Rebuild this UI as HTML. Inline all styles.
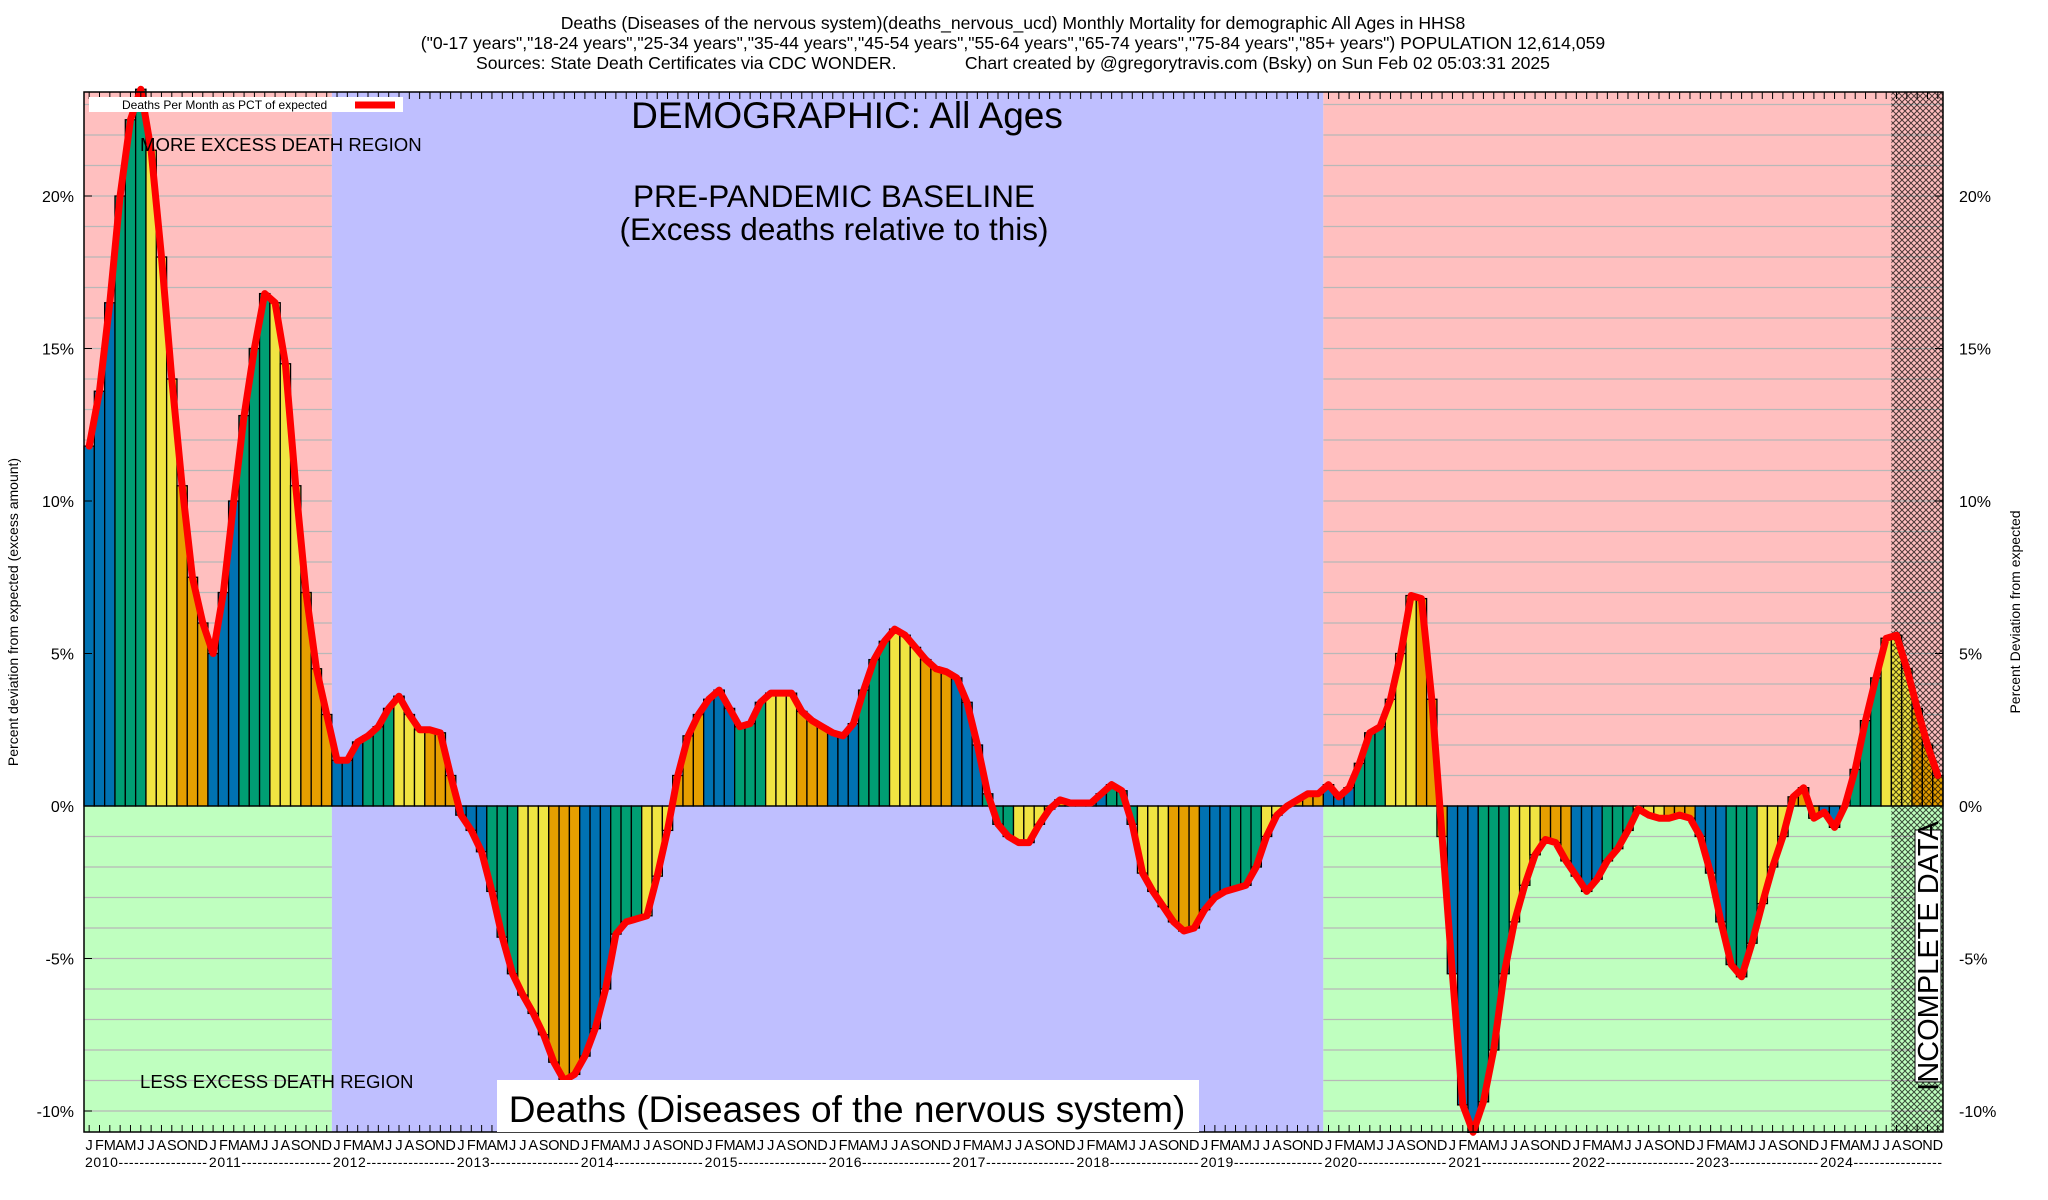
<!DOCTYPE html>
<html><head><meta charset="utf-8"><style>
body{margin:0;background:#fff;}
svg{display:block;font-family:"Liberation Sans",Arial,sans-serif;}
</style></head><body>
<svg id="chart" width="2048" height="1200" viewBox="0 0 2048 1200" xmlns="http://www.w3.org/2000/svg">
<defs>
<pattern id="hatch" width="6" height="6" patternUnits="userSpaceOnUse">
<path d="M0,0 L6,6 M6,0 L0,6" stroke="#000" stroke-width="1"/>
</pattern>
</defs>
<g id="bg"></g>
<g id="grid"></g>
<g id="bars"></g>
<g id="hatchg"></g>
<g id="line"></g>
<g id="axes"></g>
<g id="texts">
<text x="1013" y="29" font-size="17.6" text-anchor="middle">Deaths (Diseases of the nervous system)(deaths_nervous_ucd) Monthly Mortality for demographic All Ages in HHS8</text>
<text x="1013" y="49" font-size="17.6" text-anchor="middle">("0-17 years","18-24 years","25-34 years","35-44 years","45-54 years","55-64 years","65-74 years","75-84 years","85+ years") POPULATION 12,614,059</text>
<text x="1013" y="69" font-size="17.6" text-anchor="middle" xml:space="preserve">Sources: State Death Certificates via CDC WONDER.              Chart created by @gregorytravis.com (Bsky) on Sun Feb 02 05:03:31 2025</text>
<text x="847" y="128" font-size="37" text-anchor="middle">DEMOGRAPHIC: All Ages</text>
<text x="834" y="207" font-size="31.5" text-anchor="middle">PRE-PANDEMIC BASELINE</text>
<text x="834" y="240" font-size="31.5" text-anchor="middle">(Excess deaths relative to this)</text>
<text x="140" y="151" font-size="18.6">MORE EXCESS DEATH REGION</text>
<text x="140" y="1088" font-size="18.6">LESS EXCESS DEATH REGION</text>
<rect x="497" y="1080" width="702" height="52" fill="#fff"/>
<text x="847" y="1122" font-size="37" text-anchor="middle">Deaths (Diseases of the nervous system)</text>
<rect x="89" y="97" width="314" height="15" fill="#fff"/>
<text x="122" y="109" font-size="12">Deaths Per Month as PCT of expected</text>
<line x1="355" y1="105" x2="395" y2="105" stroke="#f00" stroke-width="7"/>
<text transform="translate(18,612) rotate(-90)" font-size="14" text-anchor="middle">Percent deviation from expected (excess amount)</text>
<text transform="translate(2020,612) rotate(-90)" font-size="14" text-anchor="middle">Percent Deviation from expected</text>
<rect x="1915" y="830" width="26" height="252" fill="#fff" stroke="#000" stroke-width="1"/>
<text transform="translate(1938,956) rotate(-90)" font-size="29" text-anchor="middle">INCOMPLETE DATA</text>
</g>
</svg>
<script>
const years = ["2010","2011","2012","2013","2014","2015","2016","2017","2018","2019","2020","2021","2022","2023","2024"];
const monthLetters = ["J","F","M","A","M","J","J","A","S","O","N","D"];
const yTicks = [-10,-5,0,5,10,15,20];
const values = [
11.8,13.6,16.5,20,22.5,23.5,21.5,18,14,10.5,7.5,6,
5,7,10,12.8,15,16.8,16.5,14.5,10.5,7,4.5,3,
1.5,1.5,2.1,2.3,2.6,3.2,3.6,3.0,2.5,2.5,2.4,1.0,
-0.3,-0.8,-1.5,-2.8,-4.3,-5.5,-6.2,-6.8,-7.5,-8.4,-9.0,-8.8,
-8.2,-7.3,-6.0,-4.2,-3.8,-3.7,-3.6,-2.3,-0.8,1.0,2.3,3.0,
3.5,3.8,3.2,2.6,2.7,3.4,3.7,3.7,3.7,3.1,2.8,2.6,
2.4,2.3,2.7,3.8,4.8,5.4,5.8,5.6,5.2,4.8,4.5,4.4,
4.2,3.4,2.0,0.4,-0.6,-1.0,-1.2,-1.2,-0.6,-0.1,0.2,0.1,
0.1,0.1,0.4,0.7,0.5,-0.6,-2.2,-2.8,-3.3,-3.8,-4.1,-4.0,
-3.4,-3.0,-2.8,-2.7,-2.6,-2.0,-1.0,-0.3,0.0,0.2,0.4,0.4,
0.7,0.3,0.6,1.4,2.4,2.6,3.5,5.0,6.9,6.8,3.5,-1.0,
-5.5,-9.8,-10.7,-9.7,-8.0,-5.5,-3.8,-2.6,-1.6,-1.1,-1.2,-1.8,
-2.3,-2.8,-2.4,-1.8,-1.4,-0.8,-0.1,-0.3,-0.4,-0.4,-0.3,-0.4,
-1.0,-2.2,-3.8,-5.2,-5.6,-4.5,-3.2,-2.0,-1.0,0.3,0.6,-0.4,
-0.2,-0.7,0.0,1.2,2.8,4.2,5.5,5.6,4.5,3.2,2.0,1.0
];
const seasonColors = ["#0072b2","#009e73","#f0e442","#e69f00"];

const L=84,R=1943,T=92,B=1132,Y0=806,PPP=30.5;
const N=years.length*12;
const mw=(R-L)/N;
const X=m=>L+m*mw;
const Y=v=>Y0-v*PPP;
const NS="http://www.w3.org/2000/svg";
function mk(tag,attrs,parent){const e=document.createElementNS(NS,tag);for(const k in attrs)e.setAttribute(k,attrs[k]);parent.appendChild(e);return e;}

const bg=document.getElementById('bg');
let r;
r=mk('rect',{x:L,y:T,width:X(24)-L,height:Y0-T,fill:'#ffbfbf'},bg);


r=mk('rect',{x:L,y:Y0,width:X(24)-L,height:B-Y0,fill:'#bfffbf'},bg);


r=mk('rect',{x:X(24),y:T,width:X(120)-X(24),height:B-T,fill:'#bfbfff'},bg);


r=mk('rect',{x:X(120),y:T,width:R-X(120),height:Y0-T,fill:'#ffbfbf'},bg);


r=mk('rect',{x:X(120),y:Y0,width:R-X(120),height:B-Y0,fill:'#bfffbf'},bg);



const grid=document.getElementById('grid');
for(let v=-10;v<=23;v++){
  if(v===0)continue;
  const g1=mk('line',{x1:L,x2:X(24),y1:Y(v),y2:Y(v),stroke:'#b8b8b8','stroke-width':1.3},grid);
  
  
  const g2=mk('line',{x1:X(120),x2:R,y1:Y(v),y2:Y(v),stroke:'#b8b8b8','stroke-width':1.3},grid);
  
  
}

const bars=document.getElementById('bars');
values.forEach((v,i)=>{
  const y=Math.min(Y(v),Y0),h=Math.abs(Y(v)-Y0);
  const b=mk('rect',{x:X(i),y:y,width:mw,height:h,fill:seasonColors[Math.floor((i%12)/3)],stroke:'#000','stroke-width':1.3},bars);
  
  
});
const zl=mk('line',{x1:L,x2:R,y1:Y0,y2:Y0,stroke:'#000','stroke-width':1.3},bars);



const hg=document.getElementById('hatchg');
const hs=mk('rect',{x:X(175),y:T,width:R-X(175),height:B-T,fill:'url(#hatch)',opacity:0.7},hg);



const lg=document.getElementById('line');
const pts=values.map((v,i)=>X(i+0.5).toFixed(1)+','+Y(v).toFixed(1)).join(' ');
const pl=mk('polyline',{points:pts,fill:'none',stroke:'#f00','stroke-width':7,'stroke-linejoin':'round','stroke-linecap':'round'},lg);



const ax=document.getElementById('axes');
const fr=mk('rect',{x:L,y:T,width:R-L,height:B-T,fill:'none',stroke:'#000','stroke-width':1.5},ax);


yTicks.forEach(v=>{
  const t1=mk('text',{x:L-10,y:Y(v)+6,'font-size':16,'text-anchor':'end'},ax);
  t1.textContent=v+'%';
  
  
  const t2=mk('text',{x:R+16,y:Y(v)+6,'font-size':16},ax);
  t2.textContent=v+'%';
  
  
  mk('line',{x1:L,x2:L+8,y1:Y(v),y2:Y(v),stroke:'#000'},ax);
  mk('line',{x1:R-8,x2:R,y1:Y(v),y2:Y(v),stroke:'#000'},ax);
});
for(let i=0;i<N;i++){
  const x=X(i+0.5);
  mk('line',{x1:x,x2:x,y1:B,y2:B-7,stroke:'#000'},ax);
  mk('line',{x1:x,x2:x,y1:T,y2:T+7,stroke:'#000'},ax);
  const t=mk('text',{x:x,y:1150,'font-size':14.5,'text-anchor':'middle'},ax);
  t.textContent=monthLetters[i%12];
  
  
}
years.forEach((yr,k)=>{
  const t=mk('text',{x:X(k*12)+1,y:1167,'font-size':14,textLength:12*mw-2,lengthAdjust:'spacing'},ax);
  t.textContent=yr+'-----------------';
  
  
});
</script>
</body></html>
